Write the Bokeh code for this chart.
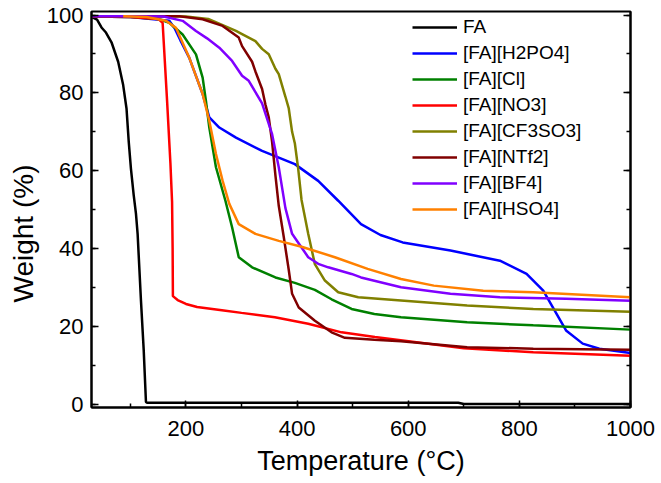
import math
from bokeh.plotting import figure
from bokeh.models import (Range1d, LinearAxis, FixedTicker, Legend, LegendItem,
                          Title, CustomJSTickFormatter)
from bokeh.embed import file_html
from bokeh.resources import INLINE

# ---- data ----
names = ["FA", "[FA][H2PO4]", "[FA][Cl]", "[FA][NO3]", "[FA][CF3SO3]",
         "[FA][NTf2]", "[FA][BF4]", "[FA][HSO4]"]
colors = ["#000000", "#0000FF", "#008000", "#FF0000", "#808000",
          "#800000", "#8000FF", "#FF8000"]

fa_t = [30, 40, 48, 56, 66, 78, 87, 93, 97, 101, 106, 110, 113, 119, 124, 128, 130, 200, 690, 700, 1000]
fa_w = [99.5, 98.8, 96.8, 95.5, 93, 88, 82, 76, 67.5, 60.5, 53.7, 49, 43.8, 26.7, 13.8, 0.6, 0.4, 0.4, 0.4, 0.1, 0.1]

h2po4_t = [30, 100, 170, 180, 190, 206, 230, 242, 260, 290, 337, 396, 438, 474, 515, 550, 590, 676, 765, 813, 843, 860, 884, 914, 944, 1000]
h2po4_w = [99.6, 99.5, 98.5, 96.5, 93.5, 89, 79.7, 73.7, 71.1, 68.5, 65.1, 61.7, 57.4, 52.3, 46.3, 43.5, 41.6, 39.5, 36.9, 33.5, 29.2, 25, 19, 15.6, 14.3, 13.2]

cl_t = [30, 100, 150, 170, 194, 218, 230, 236, 242, 254, 271, 283, 295, 319, 361, 396, 432, 462, 498, 539, 587, 706, 825, 1000]
cl_w = [99.6, 99.5, 99, 98, 95, 89.9, 83.9, 77.9, 71.1, 60.9, 52.3, 45.5, 37.8, 35.2, 32.6, 31.2, 29.4, 27, 24.5, 23.2, 22.4, 21.1, 20.3, 19.2]

no3_t = [30, 100, 150, 158, 160, 166, 172, 175, 176, 176.5, 185, 200, 220, 268, 300, 360, 420, 480, 540, 590, 700, 825, 1000]
no3_w = [99.6, 99.5, 99, 98, 93, 78, 62, 52, 40, 27.8, 26.8, 25.8, 25, 24.1, 23.5, 22.4, 20.7, 18.5, 17.3, 16.4, 14.4, 13.4, 12.5]

cf3so3_t = [30, 100, 200, 240, 290, 301, 325, 337, 349, 361, 367, 379, 385, 391, 396, 402, 408, 420, 432, 450, 474, 510, 587, 706, 825, 1000]
cf3so3_w = [99.7, 99.7, 99.6, 99, 95.9, 95.1, 93.3, 91.3, 89.9, 86.2, 84.8, 79, 76, 70, 67, 60.5, 52.5, 43.8, 36, 31.8, 28.8, 27.5, 26.7, 25.4, 24.5, 23.8]

ntf2_t = [30, 100, 188, 230, 266, 295, 301, 319, 325, 337, 343, 349, 355, 361, 367, 376, 385, 391, 403, 432, 462, 486, 539, 587, 706, 825, 1000]
ntf2_w = [99.7, 99.7, 99.7, 98.9, 97.2, 94.2, 92, 88, 85.5, 81, 77, 73.7, 67.4, 58.8, 51, 43, 34.5, 28.4, 24.9, 21.5, 18.5, 17.1, 16.6, 16.2, 14.7, 14.3, 14.0]

bf4_t = [30, 100, 160, 194, 218, 238, 260, 283, 301, 313, 337, 355, 367, 379, 391, 408, 420, 438, 456, 498, 515, 587, 676, 765, 884, 1000]
bf4_w = [99.7, 99.7, 99.6, 98.5, 95.9, 94, 91.6, 88.2, 84.4, 83.1, 77.3, 69.4, 60.9, 50.4, 43.8, 40.3, 37.8, 36.1, 35.2, 33.5, 32.6, 30.1, 28.4, 27.5, 27.1, 26.6]

hso4_t = [87, 129, 164, 182, 206, 230, 242, 254, 266, 278, 295, 325, 367, 408, 468, 527, 587, 646, 735, 825, 1000]
hso4_w = [99.7, 99.5, 98.5, 96.7, 89, 79.7, 72.8, 64.3, 57.4, 51.5, 46.3, 43.8, 42, 40.5, 37.8, 34.8, 32.2, 30.5, 29.2, 28.8, 27.5]

series = [(fa_t, fa_w), (h2po4_t, h2po4_w), (cl_t, cl_w), (no3_t, no3_w),
          (cf3so3_t, cf3so3_w), (ntf2_t, ntf2_w), (bf4_t, bf4_w), (hso4_t, hso4_w)]

x_major = [200, 400, 600, 800, 1000]
x_minor = [100, 200, 300, 400, 500, 600, 700, 800, 900, 1000]
y_major = [0, 20, 40, 60, 80, 100]
y_minor = list(range(0, 101, 10))

FONT = "Liberation Sans"

p = figure(width=658, height=483, output_backend="svg", toolbar_location=None,
           x_range=Range1d(30, 1000), y_range=Range1d(-0.8, 100.9),
           min_border_left=88, min_border_right=28, min_border_top=11,
           min_border_bottom=76)
p.grid.visible = False
p.outline_line_color = "black"
p.outline_line_width = 2
p.background_fill_color = "white"
p.border_fill_color = "white"

right = LinearAxis(formatter=CustomJSTickFormatter(code="return ''"))
p.add_layout(right, "right")

for ax in [p.xaxis[0], p.yaxis[0], right]:
    ax.axis_line_width = 2
    ax.axis_line_color = "black"
    ax.major_tick_in = 7
    ax.major_tick_out = 0
    ax.minor_tick_in = 4
    ax.minor_tick_out = 0
    ax.major_tick_line_width = 1.5
    ax.minor_tick_line_width = 1.5
    ax.major_label_text_font = FONT
    ax.major_label_text_font_size = "22px"
    ax.major_label_text_color = "black"

p.xaxis[0].ticker = FixedTicker(ticks=x_major, minor_ticks=x_minor)
p.yaxis[0].ticker = FixedTicker(ticks=y_major, minor_ticks=y_minor)
right.ticker = FixedTicker(ticks=y_major, minor_ticks=y_minor)
right.major_label_standoff = 0

p.xaxis[0].major_label_standoff = 13
p.yaxis[0].major_label_standoff = 8
p.xaxis[0].axis_label = "Temperature (°C)"
p.xaxis[0].axis_label_text_font = FONT
p.xaxis[0].axis_label_text_font_size = "27px"
p.xaxis[0].axis_label_text_font_style = "normal"
p.xaxis[0].axis_label_text_color = "black"
p.xaxis[0].axis_label_standoff = 7

renderers = []
for (t, w), c in zip(series, colors):
    r = p.line(t, w, line_color=c, line_width=2.5)
    renderers.append(r)

legend = Legend(items=[LegendItem(label=n, renderers=[r]) for n, r in zip(names, renderers)],
                location=(321, 187))
legend.border_line_color = None
legend.background_fill_alpha = 0
legend.label_text_font = FONT
legend.label_text_font_size = "19px"
legend.label_text_color = "black"
legend.glyph_width = 45
legend.glyph_height = 20
legend.label_height = 20
legend.spacing = 4
legend.padding = 0
legend.margin = 0
legend.label_standoff = 6
p.add_layout(legend)

ytitle = Title(text="Weight (%)", align="left", offset=105, standoff=10,
               text_font=FONT, text_font_size="28px", text_font_style="normal",
               text_color="black")
p.add_layout(ytitle, "left")

open("out.html", "w").write(file_html(p, INLINE))
